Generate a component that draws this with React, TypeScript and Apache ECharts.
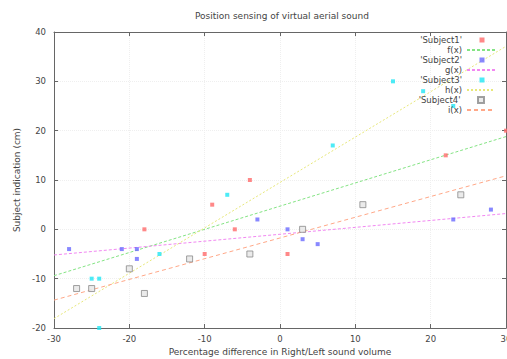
import React, { useEffect, useRef } from "react";
import * as echarts from "echarts";

const titleText = "Position sensing of virtual aerial sound";
const xName = "Percentage difference in Right/Left sound volume";
const yName = "Subject indication (cm)";

const subject1X = [-18, -10, -9, -6, -4, 1, 22, 30];
const subject1Y = [0, -5, 5, 0, 10, -5, 15, 20];
const subject2X = [-28, -21, -19, -19, -3, 1, 3, 5, 23, 28];
const subject2Y = [-4, -4, -4, -6, 2, 0, -2, -3, 2, 4];
const subject3X = [-25, -24, -24, -16, -7, 7, 15, 19, 23];
const subject3Y = [-10, -10, -20, -5, 7, 17, 30, 28, 25];
const subject4X = [-27, -25, -20, -18, -12, -4, 3, 11, 24];
const subject4Y = [-12, -12, -8, -13, -6, -5, 0, 5, 7];

const pointNames = ["'Subject1'", "'Subject2'", "'Subject3'", "'Subject4'"];
const fitNames = ["f(x)", "g(x)", "h(x)", "i(x)"];
const fitSlopes = [0.47, 0.14, 0.92, 0.42];
const fitIntercepts = [4.7, -1.0, 9.5, -1.75];
const xRange = [-30, 30];
const yRange = [-20, 40];

const pointColors = ["#ff6a6a", "#6a6aff", "#20e6f4", "#9a9a9a"];
const fitColors = ["#84e484", "#f288f2", "#e8e87a", "#ffa888"];

export default function App() {
  const ref = useRef<HTMLDivElement>(null);
  useEffect(() => {
    document.body.style.margin = "0";
    const chart = echarts.init(ref.current!, null, { renderer: "svg" });
    const xs = [subject1X, subject2X, subject3X, subject4X];
    const ys = [subject1Y, subject2Y, subject3Y, subject4Y];
    const series: any[] = [];
    const legends: any[] = [];
    const font = "DejaVu Sans";
    const fs = 8.5;
    for (let i = 0; i < 4; i++) {
      const isBox = i === 3;
      series.push({
        type: "scatter",
        name: pointNames[i],
        symbol: "rect",
        symbolSize: isBox ? 6 : 4,
        itemStyle: isBox
          ? { color: "#e6e6e6", borderColor: "#8a8a8a", borderWidth: 1 }
          : { color: pointColors[i] },
        data: xs[i].map((x, k) => [x, ys[i][k]]),
        z: 3,
      });
      series.push({
        type: "line",
        name: fitNames[i],
        symbol: "none",
        lineStyle: {
          color: fitColors[i],
          width: 1,
          type: i === 3 ? [4, 3] : i === 2 ? [2, 2] : [3, 2],
        },
        itemStyle: { color: fitColors[i] },
        data: xRange.map((x) => [x, fitSlopes[i] * x + fitIntercepts[i]]),
        z: 2,
      });
      legends.push({
        data: [{ name: pointNames[i], icon: "rect" }],
        right: isBox ? 22 : 22.5,
        top: 35.5 + 20 * i,
        align: "right",
        orient: "vertical",
        padding: 0,
        itemWidth: isBox ? 6 : 5,
        itemHeight: isBox ? 6 : 5,
        itemGap: 0,
        textStyle: { fontSize: fs, color: "#444", fontFamily: font, padding: [0, 12.5, 0, 0] },
      });
      legends.push({
        data: [fitNames[i]],
        right: 11,
        top: 45.5 + 20 * i,
        align: "right",
        orient: "vertical",
        padding: 0,
        itemWidth: 28,
        itemHeight: 8,
        itemGap: 0,
        itemStyle: { opacity: 0 },
        textStyle: { fontSize: fs, color: "#444", fontFamily: font },
      });
    }
    const axisCommon = {
      interval: 10,
      axisLine: { show: true, onZero: false, lineStyle: { color: "#666", width: 1 } },
      axisTick: { show: true, inside: true, length: 4, lineStyle: { color: "#666" } },
    };
    chart.setOption({
      animation: false,
      backgroundColor: "#fff",
      title: {
        text: titleText,
        left: 195,
        top: 11,
        padding: 0,
        textStyle: { fontSize: 9, fontWeight: "normal", color: "#444", fontFamily: font },
      },
      legend: legends,
      grid: { left: 54, right: 1, top: 32, bottom: 31, containLabel: false, outerBoundsMode: "none" },
      xAxis: [
        {
          ...axisCommon,
          type: "value",
          min: xRange[0],
          max: xRange[1],
          position: "bottom",
          name: xName,
          nameLocation: "middle",
          nameGap: 19,
          nameTextStyle: { fontSize: 9, color: "#444", fontFamily: font },
          axisLabel: { fontSize: fs, color: "#444", fontFamily: font, margin: 6 },
          splitLine: { show: true, lineStyle: { color: "#efefef", type: "dotted" } },
        },
        {
          ...axisCommon,
          type: "value",
          min: xRange[0],
          max: xRange[1],
          position: "top",
          axisLabel: { show: false },
          splitLine: { show: false },
        },
      ],
      yAxis: [
        {
          ...axisCommon,
          type: "value",
          min: yRange[0],
          max: yRange[1],
          position: "left",
          name: yName,
          nameLocation: "middle",
          nameGap: 27,
          nameTextStyle: { fontSize: 9, color: "#444", fontFamily: font },
          axisLabel: { fontSize: fs, color: "#444", fontFamily: font, margin: 8 },
          splitLine: { show: true, lineStyle: { color: "#efefef", type: "dotted" } },
        },
        {
          ...axisCommon,
          type: "value",
          min: yRange[0],
          max: yRange[1],
          position: "right",
          axisLabel: { show: false },
          splitLine: { show: false },
        },
      ],
      series,
    });
    return () => chart.dispose();
  }, []);
  return <div ref={ref} style={{ width: 507, height: 359 }} />;
}
